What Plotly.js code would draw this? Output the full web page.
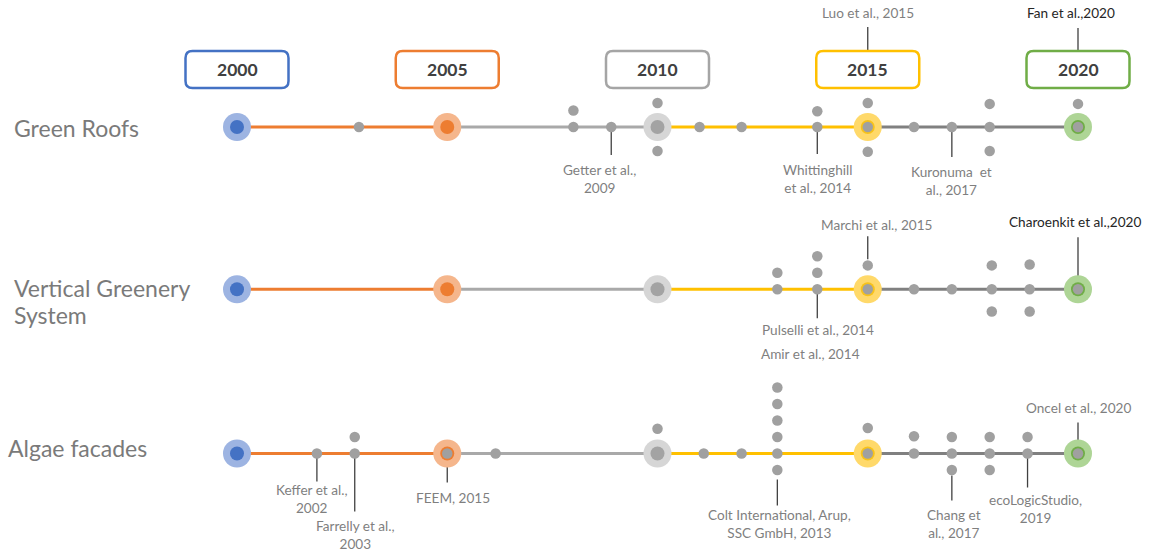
<!DOCTYPE html>
<html><head><meta charset="utf-8">
<script src="https://cdn.plot.ly/plotly-3.0.1.min.js"></script>
<style>html,body{margin:0;padding:0;background:#fff}#chart{width:1153px;height:552px}</style>
</head><body><div id="chart"></div>
<script>
// ================= DATA =================
const milestoneYears = [2000, 2005, 2010, 2015, 2020];
const milestoneLabels = ["2000", "2005", "2010", "2015", "2020"];
const rowNames = ["Green Roofs", "Vertical Greenery<br>System", "Algae facades"];

// publications on each timeline (year of the dot)
const greenRoofsYears = [2002.9, 2008.0, 2008.9, 2011.0, 2012.0, 2013.8, 2015, 2016.1, 2017.0, 2017.9, 2020];
const greenRoofsStackYears  = [2008.0, 2010, 2010, 2013.8, 2015, 2015, 2017.9, 2017.9, 2020];
const greenRoofsStackLevels = [1, 1.45, -1.45, 0.95, 1.45, -1.5, 1.4, -1.45, 1.4];

const verticalYears = [2012.85, 2013.8, 2015, 2016.1, 2017.0, 2017.95, 2018.85, 2020];
const verticalStackYears  = [2012.85, 2013.8, 2013.8, 2015, 2017.95, 2017.95, 2018.85, 2018.85];
const verticalStackLevels = [1, 1, 2, 1.45, 1.45, -1.35, 1.5, -1.35];

const algaeYears = [2001.9, 2002.8, 2005, 2006.15, 2011.1, 2012.0, 2012.85, 2015, 2016.1, 2017.0, 2017.9, 2018.8, 2020];
const algaeStackYears  = [2002.8, 2010, 2012.85, 2012.85, 2012.85, 2012.85, 2012.85, 2015, 2016.1, 2017.0, 2017.0, 2017.9, 2017.9, 2018.8];
const algaeStackLevels = [1, 1.5, 1, 2, 3, 4, -1, 1.55, 1.05, 1, -1, 1, -1, 1];

// reference labels
const refTexts = [
  "Getter et al.,<br>2009", "Whittinghill<br>et al., 2014", "Kuronuma  et<br>al., 2017",
  "Luo et al., 2015", "Fan et al.,2020",
  "Marchi et al., 2015", "Charoenkit et al.,2020", "Pulselli et al., 2014", "Amir et al., 2014",
  "Keffer et al.,<br>2002", "Farrelly et al.,<br>2003", "FEEM, 2015",
  "Colt International, Arup,<br>SSC GmbH, 2013", "Chang et<br>al., 2017", "ecoLogicStudio,<br>2019",
  "Oncel et al., 2020"
];
const refRows  = [0, 0, 0, 0, 0, 1, 1, 1, 1, 2, 2, 2, 2, 2, 2, 2];
const refYears = [2008.9, 2013.8, 2017.0, 2015, 2020, 2015, 2020, 2013.8, 2013.8,
                  2001.9, 2002.8, 2005, 2012.85, 2017.0, 2018.8, 2020];

// ================= LAYOUT / STYLE =================
const W = 1153, H = 552;
const pxPerYear = 42.05, px2000 = 237;
const x0 = 2000 - px2000 / pxPerYear, x1 = x0 + W / pxPerYear;
const rowY = [127, 289.3, 453.5];
const levelPx = 16.5;
const boxY = 69.5;

const segColors = ["#ED7D31", "#A9A9A9", "#FFC000", "#808080"];
const haloColors = ["#9DB4E2", "#F5B68C", "#D6D6D6", "#FFD96A", "#AED596"];
const innerColors = ["#4472C4", "#ED7D31", "#A3A3A3", "#F7C21A", "#70AD47"];
const boxColors = ["#4472C4", "#ED7D31", "#A5A5A5", "#FFC000", "#70AD47"];
const dotColor = "#A0A0A0";
const font = "Lato, 'Open Sans', sans-serif";

// label placement: [text dy, text dx, leader from, leader to] (px relative to row line)
const refPlace = [
  [52, -12, 0, 28], [52, 0, 0, 27], [54, 0, 0, 30], [-114, 0, -100, -76], [-114, -7, -99, -75],
  [-64, 9, -53, -30], [-67, -3, -52, -13], [41, 1, 0, 29], [65, -7, null, null],
  [45.5, -5, 0, 28], [81, 1, 0, 58], [44.5, 6, 0, 29],
  [70, 2, 26, 52], [70, 2, 22, 47], [55, 8, 0, 34], [-45.5, 0, -31, -7]
];
const refDark = [4, 6];

const traces = [];
const rowsDots = [greenRoofsYears, verticalYears, algaeYears];
const rowsStackY = [greenRoofsStackYears, verticalStackYears, algaeStackYears];
const rowsStackL = [greenRoofsStackLevels, verticalStackLevels, algaeStackLevels];

// timeline segments
rowY.forEach(function (ry) {
  for (let s = 0; s < milestoneYears.length - 1; s++) {
    traces.push({
      type: "scatter", mode: "lines", hoverinfo: "skip",
      x: [milestoneYears[s], milestoneYears[s + 1]], y: [ry, ry],
      line: {color: segColors[s], width: 3}
    });
  }
});
// milestone halos & inner circles
milestoneYears.forEach(function (m, i) {
  traces.push({type: "scatter", mode: "markers", hoverinfo: "skip",
    x: rowY.map(function () { return m; }), y: rowY,
    marker: {size: 28, color: haloColors[i], line: {width: 0}}});
  traces.push({type: "scatter", mode: "markers", hoverinfo: "skip",
    x: rowY.map(function () { return m; }), y: rowY,
    marker: {size: 14, color: innerColors[i], line: {width: 0}}});
});
// publication dots
rowsDots.forEach(function (ys, r) {
  traces.push({type: "scatter", mode: "markers", hoverinfo: "skip",
    x: ys, y: ys.map(function () { return rowY[r]; }),
    marker: {size: 10.5, color: dotColor, line: {width: 0}}});
  traces.push({type: "scatter", mode: "markers", hoverinfo: "skip",
    x: rowsStackY[r], y: rowsStackL[r].map(function (l) { return rowY[r] - l * levelPx; }),
    marker: {size: 10.5, color: dotColor, line: {width: 0}}});
});

const shapes = [];
const annotations = [];

// milestone boxes
milestoneYears.forEach(function (m, i) {
  const w = 51.5, h = 18.5, r = 7;
  const path = "M " + (-w + r) + "," + (-h) + " L " + (w - r) + "," + (-h) +
    " Q " + w + "," + (-h) + " " + w + "," + (-h + r) +
    " L " + w + "," + (h - r) + " Q " + w + "," + h + " " + (w - r) + "," + h +
    " L " + (-w + r) + "," + h + " Q " + (-w) + "," + h + " " + (-w) + "," + (h - r) +
    " L " + (-w) + "," + (-h + r) + " Q " + (-w) + "," + (-h) + " " + (-w + r) + "," + (-h) + " Z";
  shapes.push({type: "path", xref: "x", yref: "y", xsizemode: "pixel", ysizemode: "pixel",
    xanchor: m, yanchor: boxY, path: path, fillcolor: "#ffffff",
    line: {color: boxColors[i], width: 2.5}});
  annotations.push({x: m, y: boxY, xref: "x", yref: "y", text: "<b>" + milestoneLabels[i] + "</b>",
    showarrow: false, font: {family: font, size: 17.5, color: "#404040"}});
});

// row names (each line placed separately for tight line spacing)
const rowNamePos = [[13, [127.5]], [13, [288, 315]], [7, [448]]];
rowNames.forEach(function (n, i) {
  n.split("<br>").forEach(function (line, k) {
    annotations.push({x: 0, xref: "paper", y: rowNamePos[i][1][k], yref: "y", xanchor: "left",
      xshift: rowNamePos[i][0] - 1, align: "left", text: line, showarrow: false,
      font: {family: font, size: 23, color: "#7A7A7A"}});
  });
});

// reference labels & leaders
refTexts.forEach(function (t, i) {
  const ry = rowY[refRows[i]], p = refPlace[i];
  annotations.push({x: refYears[i], y: ry + p[0], xref: "x", yref: "y", xshift: p[1],
    text: t, showarrow: false, align: "center",
    font: {family: font, size: 13.6, color: refDark.indexOf(i) >= 0 ? "#262626" : "#7F7F7F"}});
  if (p[2] !== null) {
    shapes.push({type: "line", xref: "x", yref: "y", layer: "below",
      x0: refYears[i], x1: refYears[i], y0: ry + p[2], y1: ry + p[3],
      line: {color: "#404040", width: 1.3}});
  }
});

const layout = {
  width: W, height: H, margin: {l: 0, r: 0, t: 0, b: 0},
  paper_bgcolor: "#ffffff", plot_bgcolor: "#ffffff", showlegend: false,
  xaxis: {range: [x0, x1], visible: false, fixedrange: true},
  yaxis: {range: [H, 0], visible: false, fixedrange: true},
  shapes: shapes, annotations: annotations
};
Plotly.newPlot("chart", traces, layout, {staticPlot: true, displayModeBar: false});
</script>
</body></html>
